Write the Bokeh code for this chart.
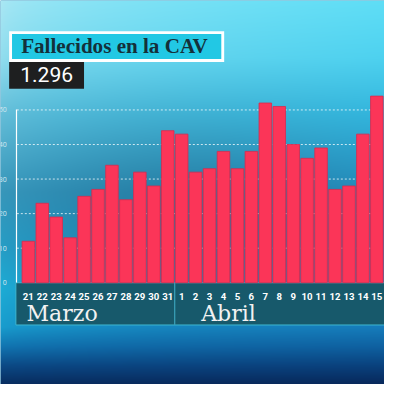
import numpy as np
from bokeh.plotting import figure
from bokeh.models import LinearAxis, FixedTicker, Label, Range1d
from bokeh.embed import file_html
from bokeh.resources import INLINE

# ---------------- data ----------------
days = ["21", "22", "23", "24", "25", "26", "27", "28", "29", "30", "31",
        "1", "2", "3", "4", "5", "6", "7", "8", "9", "10", "11", "12", "13", "14", "15"]
deaths = [12, 23, 19, 13, 25, 27, 34, 24, 32, 28, 44,
          43, 32, 33, 38, 33, 38, 52, 51, 40, 36, 39, 27, 28, 43, 54]
months = ["Marzo", "Abril"]
y_ticks = [0, 10, 20, 30, 40, 50]
title = "Fallecidos en la CAV"
total = "1.296"

# ---------------- geometry helpers (reference pixel -> data) ----------------
S = 384.0 / 400.0          # the 400px reference is drawn into a 384px figure

def dx(px):
    return (px - 29.0) / 14.52

def dy(py):
    return (294.0 - py) / 3.6

def fs(px):
    return "%.1fpx" % (px * S)

xs, xe = dx(0), dx(400)
ys, ye = dy(400), dy(0)

p = figure(width=384, height=384, x_range=Range1d(xs, xe), y_range=Range1d(ys, ye),
           output_backend="svg", toolbar_location=None, min_border=0,
           x_axis_type=None, y_axis_type=None)
p.outline_line_color = None
p.background_fill_color = "#2a8fbd"
p.border_fill_color = "#2a8fbd"

# ---------------- background gradient ----------------
H = W = 384
ry = (H - (np.arange(H) + 0.5)) / S
rx = (np.arange(W) + 0.5) / S
left_stops = [(0, 175, 232, 244), (60, 150, 222, 238), (120, 105, 192, 218), (200, 60, 158, 194),
              (260, 40, 165, 205), (300, 30, 178, 218), (340, 25, 160, 208), (360, 18, 120, 180),
              (380, 12, 75, 135), (400, 8, 45, 95)]
right_stops = [(0, 95, 222, 246), (60, 78, 210, 240), (120, 50, 182, 222), (200, 36, 142, 192),
               (300, 26, 135, 195), (340, 22, 125, 188), (360, 15, 98, 162), (380, 10, 66, 126),
               (400, 8, 40, 90)]

def prof(stops, y):
    sy = [s[0] for s in stops]
    return np.stack([np.interp(y, sy, [s[c + 1] for s in stops]) for c in range(3)], axis=-1)

Lp = prof(left_stops, ry)
Rp = prof(right_stops, ry)
t = np.clip(rx / 400.0, 0, 1) ** 0.5
rgb = Lp[:, None, :] * (1 - t[None, :, None]) + Rp[:, None, :] * t[None, :, None]
X, Y = np.meshgrid(rx, ry)
vig = 1 - 0.14 * np.exp(-(((X - 190) / 170) ** 2 + ((Y - 215) / 90) ** 2))
rgb = np.clip(rgb * vig[:, :, None], 0, 255).astype(np.uint32)
img = (np.uint32(255) << 24) | (rgb[:, :, 2] << 16) | (rgb[:, :, 1] << 8) | rgb[:, :, 0]
p.image_rgba(image=[img], x=xs, y=ys, dw=xe - xs, dh=ye - ys, level="image")

# ---------------- grid lines ----------------
grid_y = [v for v in y_ticks if v > 0]
p.segment(x0=[dx(17)] * len(grid_y), y0=grid_y, x1=[xe] * len(grid_y), y1=grid_y,
          line_color="white", line_alpha=0.75, line_width=1, line_dash="2 2")

# ---------------- month box ----------------
p.quad(left=[dx(16)], right=[xe + 1], top=[0], bottom=[dy(338)],
       fill_color="#17596b", line_color="#3fb6d0", line_width=1)
p.segment(x0=[10.5], y0=[0], x1=[10.5], y1=[dy(338)], line_color="#3aa2ba", line_width=1.2)

# ---------------- bars ----------------
p.vbar(x=list(range(len(deaths))), top=deaths, bottom=0, width=0.9,
       fill_color="#fb3558", line_color="#d92a4d", line_width=0.8)

# ---------------- axes ----------------
yaxis = LinearAxis(fixed_location=dx(17), bounds=(0, 50), ticker=FixedTicker(ticks=y_ticks))
yaxis.axis_line_color = "white"
yaxis.axis_line_width = 1.2
yaxis.major_tick_line_color = None
yaxis.minor_tick_line_color = None
yaxis.major_label_text_font = "Roboto"
yaxis.major_label_text_font_size = fs(7.5)
yaxis.major_label_text_color = "#c8e4ee"
yaxis.major_label_standoff = 4
p.add_layout(yaxis, "left")

xaxis = LinearAxis(fixed_location=0, ticker=FixedTicker(ticks=list(range(len(days)))),
                   major_label_overrides={i: d for i, d in enumerate(days)})
xaxis.axis_line_color = None
xaxis.major_tick_line_color = None
xaxis.minor_tick_line_color = None
xaxis.major_label_text_font = "Roboto"
xaxis.major_label_text_font_style = "bold"
xaxis.major_label_text_font_size = fs(10)
xaxis.major_label_text_color = "white"
xaxis.major_label_standoff = 4
p.add_layout(xaxis, "below")

# ---------------- title boxes ----------------
p.quad(left=[dx(9)], right=[dx(233)], top=[dy(32)], bottom=[dy(64)],
       fill_color="white", line_color=None)
p.quad(left=[dx(12)], right=[dx(230)], top=[dy(35)], bottom=[dy(61)],
       fill_color="#22c8e4", line_color=None)
p.quad(left=[dx(9)], right=[dx(87)], top=[dy(64)], bottom=[dy(92)],
       fill_color="#1e1f20", line_color=None)

p.add_layout(Label(x=dx(21.5), y=dy(47), text=title, text_font="Liberation Serif",
                   text_font_style="bold", text_font_size=fs(22), text_color="#14303a",
                   text_baseline="middle", text_align="left"))
p.add_layout(Label(x=dx(20.5), y=dy(77.5), text=total, text_font="Roboto",
                   text_font_size=fs(22), text_color="white",
                   text_baseline="middle", text_align="left"))

# ---------------- month labels ----------------
p.add_layout(Label(x=dx(27), y=dy(325), text=months[0], text_font="DejaVu Serif",
                   text_font_size=fs(23), text_color="#f2f2f2",
                   text_baseline="middle", text_align="left"))
p.add_layout(Label(x=dx(209), y=dy(325), text=months[1], text_font="DejaVu Serif",
                   text_font_size=fs(23), text_color="#f2f2f2",
                   text_baseline="middle", text_align="left"))

open("out.html", "w").write(file_html(p, INLINE))
